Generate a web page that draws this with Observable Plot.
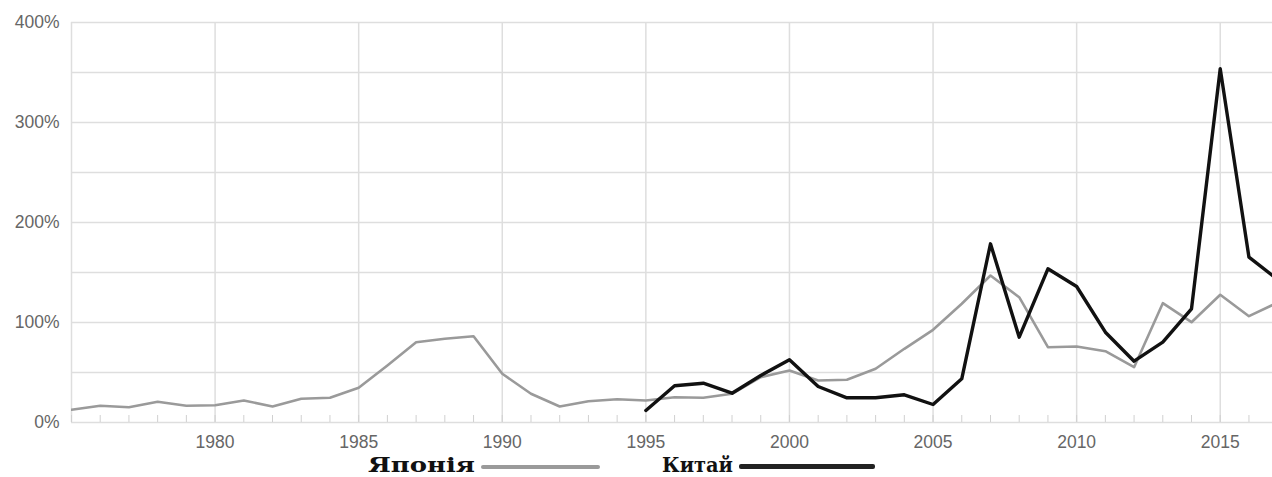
<!DOCTYPE html>
<html><head><meta charset="utf-8">
<script src="https://cdn.jsdelivr.net/npm/d3@7"></script>
<script src="https://cdn.jsdelivr.net/npm/@observablehq/plot@0.6"></script>
<style>
body{margin:0;background:#fff;}
#wrap{position:relative;width:1272px;height:477px;overflow:hidden;background:#fff}
#chart svg{display:block}
.lg{position:absolute;font-family:"DejaVu Serif",serif;font-weight:bold;font-size:21px;color:#111;line-height:20px;height:20px;white-space:nowrap;transform-origin:0 0}
.sw{position:absolute;height:4px;border-radius:2px}
</style>
</head><body>
<div id="wrap"><div id="chart"></div>
<div class="lg" id="lgJ" style="left:368px;top:455px">Японія</div>
<div class="sw" style="left:481px;top:465px;width:119px;background:#9a9a9a"></div>
<div class="lg" id="lgC" style="left:662px;top:455px">Китай</div>
<div class="sw" style="left:739px;top:464px;width:136px;height:5px;background:#222"></div>
</div>
<script>
const japanYears = d3.range(1975, 2018);
const japanValues = [12.7, 16.7, 15.3, 20.7, 16.7, 17.3, 22, 16, 23.7, 24.7,
  34.7, 57, 80.3, 83.7, 86.3, 48.7, 28.7, 16, 21.3, 23.3,
  22, 25.3, 24.7, 28.7, 45.3, 52, 42, 42.7, 53.7, 73.7,
  92.7, 118.7, 147, 125.3, 75.3, 76, 71.3, 55.3, 119.3, 100.3,
  127.7, 106.3, 120];
const chinaYears = d3.range(1995, 2018);
const chinaValues = [12, 36.7, 39.3, 29.3, 47, 62.7, 36, 24.7, 24.7, 27.7,
  18, 43.7, 178.7, 85.3, 153.7, 136, 90.3, 61.3, 80.3, 113.7,
  353.7, 165.3, 143];
const xLabelYears = [1980, 1985, 1990, 1995, 2000, 2005, 2010, 2015];
const xGridYears = [1975, 1980, 1985, 1990, 1995, 2000, 2005, 2010, 2015];
const yTicks = [0, 100, 200, 300, 400];
const yGrid = [0, 50, 100, 150, 200, 250, 300, 350, 400];

const japan = japanYears.map((y, i) => ({year: y, value: japanValues[i]}));
const china = chinaYears.map((y, i) => ({year: y, value: chinaValues[i]}));

const chart = Plot.plot({
  width: 1272, height: 456,
  marginLeft: 71, marginRight: 0, marginTop: 22, marginBottom: 34,
  style: {fontFamily: "'Liberation Sans', Arial, sans-serif", fontSize: "17.5px", color: "#666", background: "#fff"},
  x: {type: "linear", domain: [1975, 2016.82]},
  y: {domain: [0, 400]},
  marks: [
    Plot.gridY(yGrid, {stroke: "#dedede", strokeOpacity: 1, strokeWidth: 1.5}),
    Plot.gridX(xGridYears, {stroke: "#dedede", strokeOpacity: 1, strokeWidth: 1.5}),
    Plot.axisX(japanYears, {tickSize: -7, tickFormat: () => "", stroke: "#d0d0d0", label: null}),
    Plot.axisX(xLabelYears, {tickSize: 0, tickPadding: 13, tickFormat: d => String(d), label: null, fill: "#666"}),
    Plot.axisY(yTicks, {tickSize: 0, tickPadding: 12, tickFormat: d => d + "%", label: null, fill: "#666"}),
    Plot.line(japan, {x: "year", y: "value", stroke: "#9a9a9a", strokeWidth: 2.6, clip: true}),
    Plot.line(china, {x: "year", y: "value", stroke: "#111", strokeWidth: 3.4, clip: true})
  ]
});
document.getElementById("chart").appendChild(chart);

// fit legend words to the widths seen in the reference
[["lgJ", 107], ["lgC", 71]].forEach(([id, w]) => {
  const el = document.getElementById(id);
  const actual = el.getBoundingClientRect().width;
  el.style.transform = `scaleX(${w / actual})`;
});
</script>
</body></html>
